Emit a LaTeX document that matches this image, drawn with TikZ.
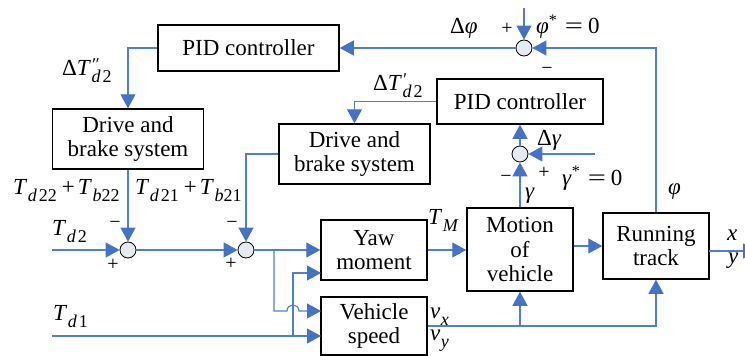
\documentclass[tikz,border=0pt]{standalone}
\usepackage{fontspec}
\setmainfont{LiberationSerif-Regular.ttf}[BoldFont=LiberationSerif-Bold.ttf, ItalicFont=LiberationSerif-Italic.ttf, BoldItalicFont=LiberationSerif-BoldItalic.ttf]
\usetikzlibrary{arrows.meta}
\definecolor{ln}{HTML}{4F81C9}
\definecolor{ah}{HTML}{4472C4}
\definecolor{sf}{HTML}{E4EBF5}
\newcommand{\Sb}[1]{\kern0.5pt\raisebox{-7pt}{\fontsize{18}{18}\selectfont #1}}
\newcommand{\Sp}[1]{\raisebox{9pt}{\fontsize{16}{16}\selectfont #1}}
\newcommand{\PrimeUp}[1]{\raisebox{5pt}{\fontsize{18}{18}\selectfont #1}}
\newcommand{\It}[1]{\textit{#1}}
\newcommand{\Eq}{\hspace{8pt}\scalebox{1.4}[1]{=}\hspace{5pt}}
\begin{document}
\begin{tikzpicture}[x=1pt,y=-1pt,
  box/.style={draw=black, line width=1.5pt, inner sep=0pt, align=center, font=\fontsize{23}{24.5}\selectfont},
  sum/.style={circle, draw=black, fill=sf, line width=0.8pt, minimum size=16pt, inner sep=0pt},
  arr/.style={draw=ln, line width=1.1pt, -{Triangle[length=14pt,width=15pt,color=ah]}},
  lab/.style={anchor=base west, inner sep=0pt, font=\fontsize{23}{23}\selectfont},
  sgn/.style={inner sep=0pt, font=\fontsize{20}{20}\selectfont}]
\useasboundingbox (0,0) rectangle (745,356);
\fill[white] (0,0) rectangle (745,356);
% blocks
\node[box, minimum width=181pt, minimum height=46pt] (pid1) at (248.5,48) {PID controller};
\node[box, minimum width=151pt, minimum height=60pt] (drv1) at (128,139) {Drive and\\brake system};
\node[box, minimum width=151pt, minimum height=60pt] (drv2) at (354.5,154) {Drive and\\brake system};
\node[box, minimum width=166pt, minimum height=45pt] (pid2) at (520,101.5) {PID controller};
\node[box, minimum width=106pt, minimum height=60pt] (yaw) at (374,250) {Yaw\\moment};
\node[box, minimum width=106pt, minimum height=58pt] (spd) at (374,326) {Vehicle\\speed};
\node[box, minimum width=106pt, minimum height=83pt] (mot) at (520,249.5) {Motion\\of\\vehicle};
\node[box, minimum width=106pt, minimum height=66pt] (trk) at (656,246) {Running\\track};
% summing points
\node[sum] (sT) at (524,48) {};
\node[sum] (sG) at (520,154) {};
\node[sum] (sA) at (128,250) {};
\node[sum] (sB) at (246,250) {};
% coordinates
\coordinate (inT) at (524,8);
\coordinate (inG) at (595,154);
\coordinate (inA) at (52,250);
\coordinate (inD1) at (52,336);
\coordinate (b1) at (274,250);
\coordinate (b1d) at (274,311);
\coordinate (h1) at (287,311);
\coordinate (h2) at (299,311);
\coordinate (s1) at (321,311);
\coordinate (b2) at (293,336);
\coordinate (s2) at (321,336);
\coordinate (y2) at (321,273);
\coordinate (b3) at (520,326);
\coordinate (o1) at (709,251);
\coordinate (o2) at (757,251);
% connectors
\draw[arr] (inT) -- (sT);
\draw[arr] (trk.north) |- (sT);
\draw[arr] (sT) -- (pid1.east);
\draw[arr] (pid1.west) -| (drv1.north);
\draw[arr] (drv1.south) -- (sA);
\draw[arr] (inA) -- (sA);
\draw[arr] (sA) -- (sB);
\draw[arr] (pid2.west) -| (drv2.north);
\draw[arr] (drv2.west) -| (sB);
\draw[arr] (sG) -- (pid2.south);
\draw[arr] (inG) -- (sG);
\draw[arr] (mot.north) -- (sG);
\draw[arr] (sB) -- (yaw.west);
\draw[arr] (b1) -- (b1d) -- (h1) .. controls +(0,-8) and +(0,-8) .. (h2) -- (s1);
\draw[arr] (inD1) -- (s2);
\draw[arr] (b2) |- (y2);
\draw[arr] (yaw.east) -- (mot.west |- yaw.east);
\draw[arr] (mot.east |- trk.west) -- (trk.west);
\draw[arr] (o1) -- (o2);
\draw[arr] (spd.east) -| (trk.south);
\draw[arr] (b3) -- (mot.south);
% labels
\node[lab] (l1) at (62,75) {Δ\It{T}\rlap{\PrimeUp{\It{″}}}\Sb{\It{d}\kern2pt 2}};
\node[lab] (l2) at (373,90) {Δ\It{T}\rlap{\PrimeUp{\It{′}}}\Sb{\It{d}\kern2pt 2}};
\node[lab] (l3) at (450,34) {Δ\It{φ}};
\node[sgn] (g1) at (507,29) {+};
\node[lab] (l4) at (536,34) {\It{φ}\Sp{*}\Eq 0};
\node[sgn] (g2) at (547,71) {−};
\node[lab] (l5) at (537,145) {Δ\It{γ}};
\node[sgn] (g3) at (506,179) {−};
\node[sgn] (g4) at (544,173) {+};
\node[lab] (l6) at (562,185) {\It{γ}\Sp{*}\Eq 0};
\node[lab] (l7) at (525,198) {\It{γ}};
\node[lab] (l8) at (668,194) {\It{φ}};
\node[lab] (l9) at (428,224) {\It{T}\Sb{\It{M}}};
\node[lab] (l10) at (430,318) {\It{v}\Sb{\It{x}}};
\node[lab] (l11) at (430,340) {\It{v}\Sb{\It{y}}};
\node[lab] (l12) at (727,240) {\It{x}};
\node[lab] (l13) at (728,263) {\It{y}};
\node[lab] (l14) at (52,235) {\It{T}\Sb{\It{d}\kern2pt 2}};
\node[lab] (l15) at (53,320) {\It{T}\Sb{\It{d}\kern2pt 1}};
\node[lab] (l16) at (13,194) {\It{T}\Sb{\It{d}\kern2pt 22}\hspace{5pt}+\hspace{3pt}\It{T}\Sb{\It{b}22}};
\node[lab] (l17) at (135,194) {\It{T}\Sb{\It{d}\kern2pt 21}\hspace{5pt}+\hspace{3pt}\It{T}\Sb{\It{b}21}};
\node[sgn] (g5) at (115,225) {−};
\node[sgn] (g6) at (113,265) {+};
\node[sgn] (g7) at (232,225) {−};
\node[sgn] (g8) at (231,264) {+};
\end{tikzpicture}
\end{document}
